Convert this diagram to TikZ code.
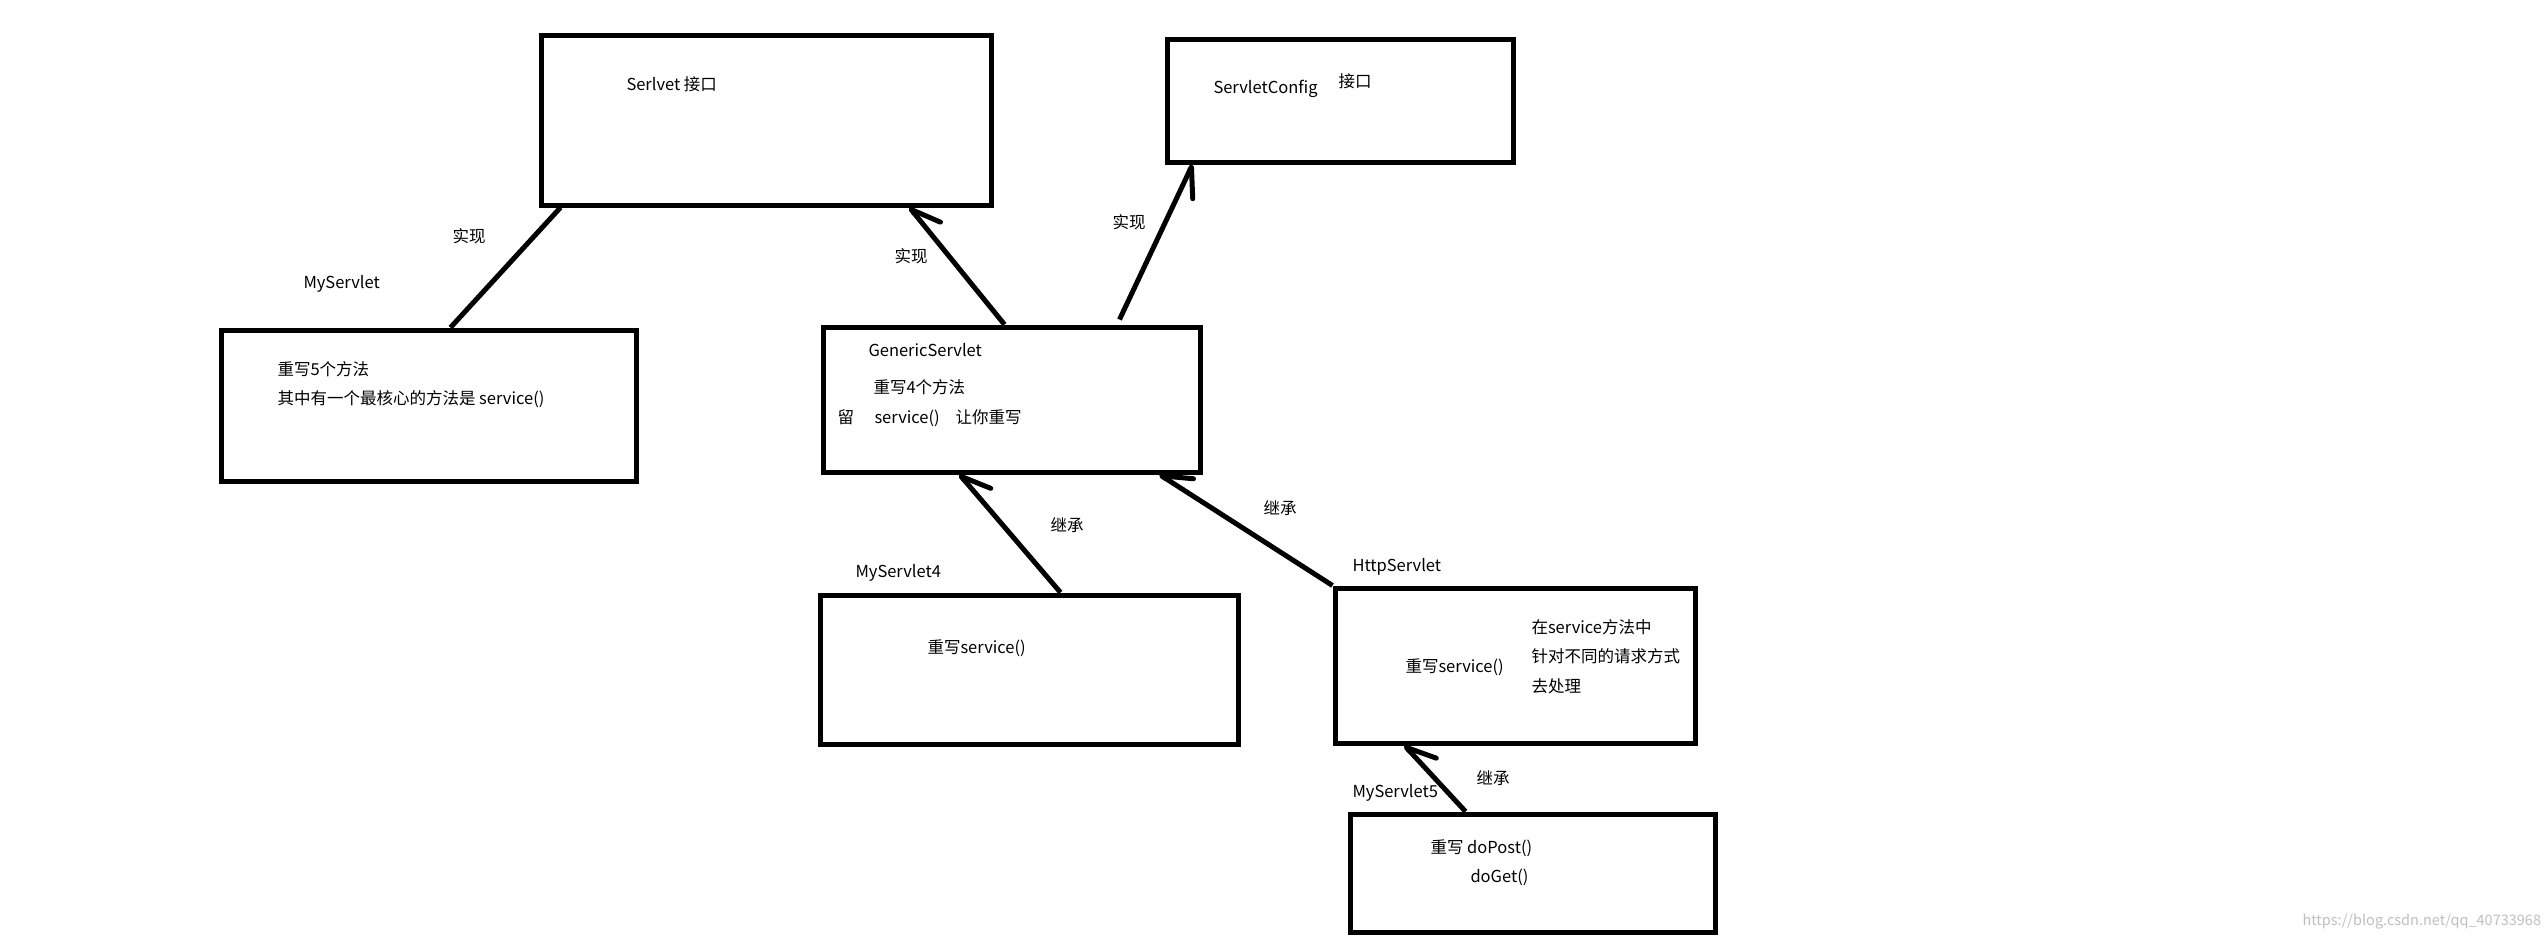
\documentclass[tikz,border=0pt]{standalone}
\usepackage{fontspec}
\setmainfont{Noto Sans CJK SC}
\usetikzlibrary{arrows.meta}

\begin{document}
\begin{tikzpicture}[
        x = 1pt, y = -1pt,
        > = {Straight Barb[right, round, angle = 55:32pt]},
        line width = 5pt,
        box/.style = {draw, rectangle, inner sep = 0pt},
        txt/.style = {anchor = west, inner sep = 0pt, text height = 14pt, text depth = 3pt, font = \fontsize{16.5}{18}\selectfont}
    ]
        \fill[white] (0,0) rectangle (2548,938);
        \useasboundingbox (0,0) rectangle (2548,938);
        \node[box, minimum width = 450pt, minimum height = 170pt] (serlvet) at (766,120) {};
        \node[box, minimum width = 346pt, minimum height = 123pt] (config) at (1340,100.5) {};
        \node[box, minimum width = 415pt, minimum height = 151pt] (myservlet) at (428.5,405.5) {};
        \node[box, minimum width = 377pt, minimum height = 145pt] (generic) at (1011.5,399.5) {};
        \node[box, minimum width = 418pt, minimum height = 149pt] (myservletfour) at (1029,669.5) {};
        \node[box, minimum width = 360pt, minimum height = 155pt] (http) at (1515,665.5) {};
        \node[box, minimum width = 365pt, minimum height = 118pt] (myservletfive) at (1532.5,873) {};
        \draw ([xshift = 232pt]myservlet.north west) -- ([xshift = 22pt]serlvet.south west);
        \draw[->] ([xshift = 184pt]generic.north west) -- ([xshift = -84pt]serlvet.south east);
        \draw[->] ([xshift = 299pt, yshift = 5pt]generic.north west) -- ([xshift = 28pt]config.south west);
        \draw[->] ([xshift = 243pt]myservletfour.north west) -- ([xshift = 139pt]generic.south west);
        \draw[->] (http.north west) -- ([xshift = -43pt]generic.south east);
        \draw[->] ([xshift = 118pt]myservletfive.north west) -- ([xshift = 72pt]http.south west);
        \node[txt] (serlvettitle) at (624,85) {Serlvet 接口};
        \node[txt] (configtitle) at (1211,88) {ServletConfig};
        \node[txt] (configkind) at (1336,82) {接口};
        \node[txt] (implone) at (450,237) {实现};
        \node[txt] (impltwo) at (892,257) {实现};
        \node[txt] (implthree) at (1110,223) {实现};
        \node[txt] (myservlettitle) at (301,283) {MyServlet};
        \node[txt] (myservletone) at (275,370) {重写5个方法};
        \node[txt] (myservlettwo) at (275,399) {其中有一个最核心的方法是 service()};
        \node[txt] (generictitle) at (866,351) {GenericServlet};
        \node[txt] (genericone) at (871,388) {重写4个方法};
        \node[txt] (genericleave) at (835,418) {留};
        \node[txt] (generictwo) at (872,418) {service()};
        \node[txt] (genericthree) at (953,418) {让你重写};
        \node[txt] (extendone) at (1048,526) {继承};
        \node[txt] (extendtwo) at (1261,509) {继承};
        \node[txt] (extendthree) at (1474,779) {继承};
        \node[txt] (myservletfourtitle) at (853,572) {MyServlet4};
        \node[txt] (myservletfourbody) at (925,648) {重写service()};
        \node[txt] (httptitle) at (1350,566) {HttpServlet};
        \node[txt] (httpbody) at (1403,667) {重写service()};
        \node[txt] (httpone) at (1529,628) {在service方法中};
        \node[txt] (httptwo) at (1529,657) {针对不同的请求方式};
        \node[txt] (httpthree) at (1529,687) {去处理};
        \node[txt] (myservletfivetitle) at (1350,792) {MyServlet5};
        \node[txt] (myservletfiveone) at (1428,848) {重写 doPost()};
        \node[txt] (myservletfivetwo) at (1468,877) {doGet()};
        \node[txt, text = black!25, font = \fontsize{14.5}{16}\selectfont] (watermark) at (2300,920) {https://blog.csdn.net/qq\_40733968};
    \end{tikzpicture}
\end{document}
